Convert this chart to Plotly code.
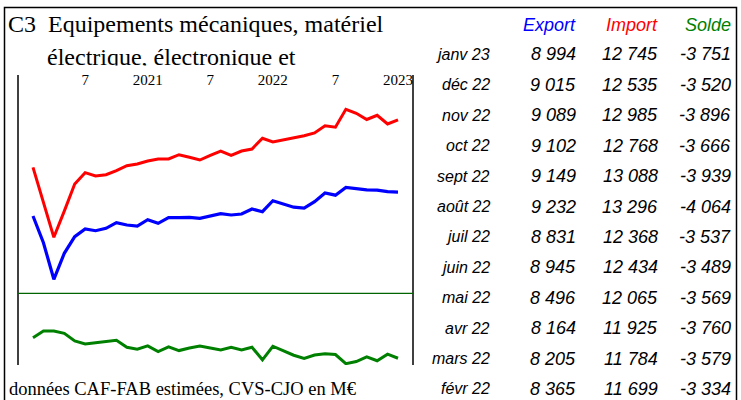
import plotly.graph_objects as go

W, H = 741, 400


def px(x):
    return x / W


def py(y):
    return 1 - y / H


# ---------------- data ----------------
months = [
    "2020-02", "2020-03", "2020-04", "2020-05", "2020-06", "2020-07", "2020-08", "2020-09",
    "2020-10", "2020-11", "2020-12", "2021-01", "2021-02", "2021-03", "2021-04", "2021-05",
    "2021-06", "2021-07", "2021-08", "2021-09", "2021-10", "2021-11", "2021-12", "2022-01",
    "2022-02", "2022-03", "2022-04", "2022-05", "2022-06", "2022-07", "2022-08", "2022-09",
    "2022-10", "2022-11", "2022-12", "2023-01",
]
exports = [
    7748, 6360, 4456, 5808, 6671, 7072, 6983, 7108, 7400, 7280, 7228, 7555,
    7368, 7659, 7659, 7680, 7628, 7748, 7867, 7800, 7852, 8112, 7971, 8543,
    8365, 8205, 8164, 8496, 8945, 8831, 9232, 9149, 9102, 9089, 9015, 8994,
]
imports = [
    10280, 8460, 6640, 8000, 9412, 10000, 9828, 9895, 10103, 10363, 10452, 10608,
    10712, 10712, 10935, 10800, 10660, 10904, 11128, 10904, 11128, 11232, 11788, 11596,
    11699, 11784, 11925, 12065, 12434, 12368, 13296, 13088, 12768, 12985, 12535, 12745,
]
solde = [
    -2570, -2190, -2190, -2320, -2760, -2930, -2855, -2797, -2721, -3120, -3233, -3044,
    -3367, -3100, -3310, -3160, -3044, -3160, -3272, -3120, -3272, -3120, -3842, -3061,
    -3334, -3579, -3760, -3569, -3489, -3537, -4064, -3939, -3666, -3896, -3520, -3751,
]
tick_vals = ["2020-07", "2021-01", "2021-07", "2022-01", "2022-07", "2023-01"]
tick_text = ["7", "2021", "7", "2022", "7", "2023"]

table_labels = ["janv 23", "déc 22", "nov 22", "oct 22", "sept 22", "août 22",
                "juil 22", "juin 22", "mai 22", "avr 22", "mars 22", "févr 22"]
headers = ["Export", "Import", "Solde"]
title_parts = ["C3", "Equipements mécaniques, matériel", "électrique, électronique et"]
footer = "données CAF-FAB estimées, CVS-CJO en M€"

# ---------------- styles ----------------
C_EXP, C_IMP, C_SOL = "#0000ff", "#ff0000", "#008000"
SERIF = "Liberation Serif, Times New Roman, serif"
SANS = "Liberation Sans, Arial, sans-serif"

fig = go.Figure()
fig.add_trace(go.Scatter(x=months, y=imports, mode="lines", line=dict(color=C_IMP, width=3),
                         xaxis="x", yaxis="y", hoverinfo="skip"))
fig.add_trace(go.Scatter(x=months, y=exports, mode="lines", line=dict(color=C_EXP, width=3.2),
                         xaxis="x", yaxis="y", hoverinfo="skip"))
fig.add_trace(go.Scatter(x=months, y=solde, mode="lines", line=dict(color=C_SOL, width=3),
                         xaxis="x2", yaxis="y2", hoverinfo="skip"))

# title (second line clipped at the top of the chart area, as in the reference)
fig.add_trace(go.Scatter(
    x=[8, 48, 47], y=[25.5, 25.5, 59], text=title_parts, mode="text",
    textposition="middle right", cliponaxis=True, hoverinfo="skip",
    textfont=dict(family=SERIF, size=24, color="black"),
    xaxis="x3", yaxis="y3"))

fig.update_layout(
    width=W, height=H, margin=dict(l=0, r=0, t=0, b=0),
    paper_bgcolor="white", plot_bgcolor="rgba(0,0,0,0)", showlegend=False,
    xaxis=dict(type="category", range=[-1.438, 36.438], domain=[px(18), px(413)],
               anchor="free", position=py(88), side="top",
               tickmode="array", tickvals=tick_vals, ticktext=tick_text,
               tickfont=dict(family=SERIF, size=15, color="black"),
               ticks="", showline=False, showgrid=False, zeroline=False),
    yaxis=dict(domain=[py(293), py(75)], range=[3744, 15080], visible=False),
    xaxis2=dict(type="category", range=[-1.438, 36.438], domain=[px(18), px(413)],
                anchor="y2", visible=False),
    yaxis2=dict(domain=[py(365), py(293)], range=[-4140, 0], anchor="x2", visible=False),
    xaxis3=dict(domain=[0, 1], range=[0, W], anchor="y3", visible=False),
    yaxis3=dict(domain=[py(65.5), 1], range=[65.5, 0], anchor="x3", visible=False),
)

shapes = [
    dict(type="rect", xref="paper", yref="paper", x0=px(4.5), x1=px(736.5), y0=py(7.5), y1=py(403),
         line=dict(color="black", width=1.5), layer="above"),
    dict(type="line", xref="paper", yref="paper", x0=px(18), x1=px(18), y0=py(75), y1=py(365),
         line=dict(color="black", width=1.5), layer="above"),
    dict(type="line", xref="paper", yref="paper", x0=px(413), x1=px(413), y0=py(75), y1=py(365),
         line=dict(color="black", width=1.5), layer="above"),
    dict(type="line", xref="paper", yref="paper", x0=px(18), x1=px(413), y0=py(293.3), y1=py(293.3),
         line=dict(color="#006400", width=1.3), layer="above"),
]
fig.update_layout(shapes=shapes)

ann = []
# table header
for h, col, xr in zip(headers, [C_EXP, C_IMP, C_SOL], [578, 660, 733]):
    ann.append(dict(text=h, x=px(xr), y=py(25.5), xref="paper", yref="paper", xanchor="right",
                    yanchor="middle", showarrow=False,
                    font=dict(family=SANS, size=18, color=col, style="italic")))


def fmt(v):
    return f"{v:,}".replace(",", " ")


n = len(table_labels)
for k in range(n):
    idx = len(months) - 1 - k
    yc = py(54.5 + 30.4 * k)
    ann.append(dict(text=table_labels[k], x=px(492), y=yc, xref="paper", yref="paper",
                    xanchor="right", yanchor="middle", showarrow=False,
                    font=dict(family=SANS, size=16, color="black", style="italic")))
    for val, xr in zip([exports[idx], imports[idx], solde[idx]], [578, 660, 733]):
        ann.append(dict(text=fmt(val), x=px(xr), y=yc, xref="paper", yref="paper",
                        xanchor="right", yanchor="middle", showarrow=False,
                        font=dict(family=SANS, size=18, color="black", style="italic")))

ann.append(dict(text=footer, x=px(7), y=py(389), xref="paper", yref="paper", xanchor="left",
                yanchor="middle", showarrow=False,
                font=dict(family=SERIF, size=18.5, color="black")))
fig.update_layout(annotations=ann)

fig.write_html("out.html", config={"displayModeBar": False},
               post_script="document.body.style.margin='0px';")
